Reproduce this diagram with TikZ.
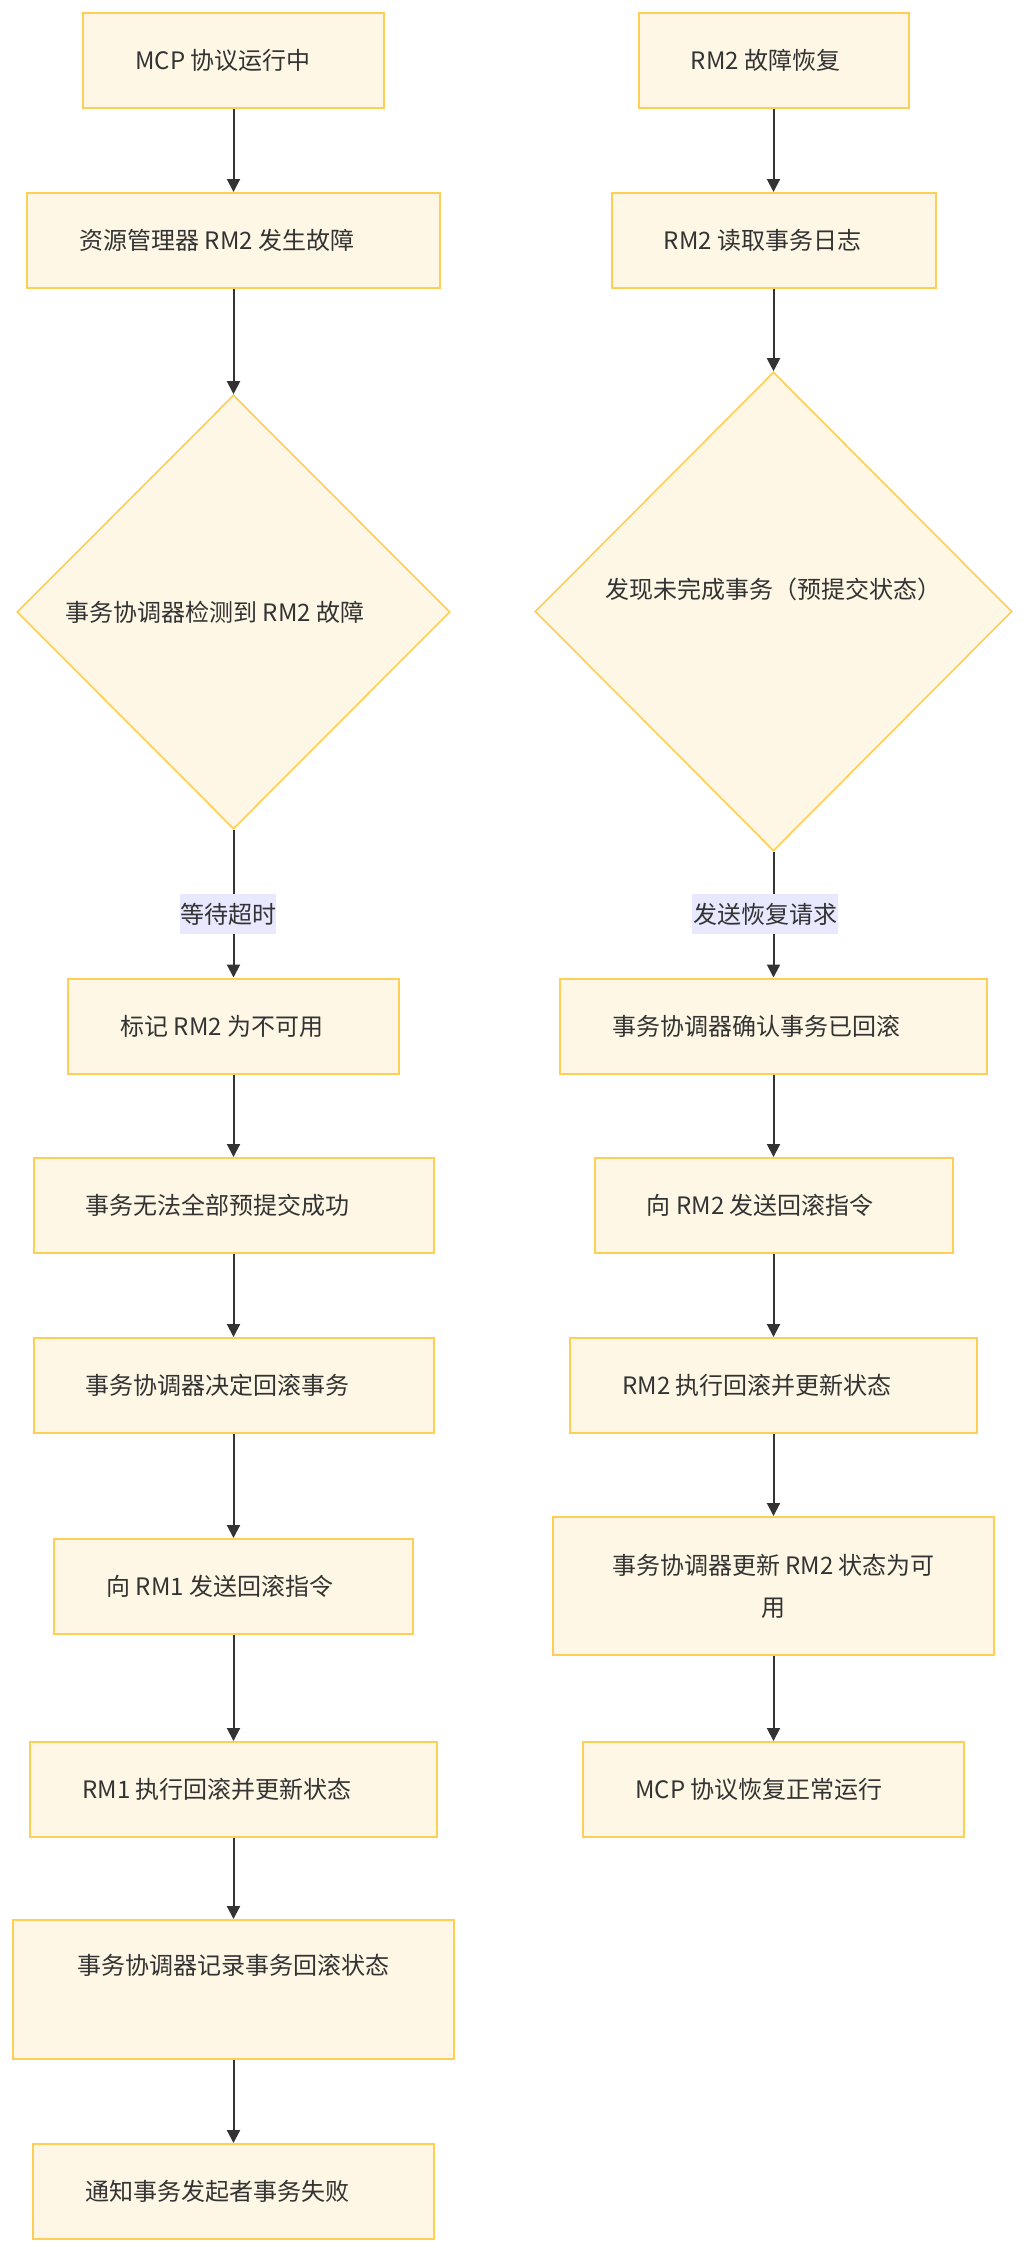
\documentclass[tikz,border=0pt]{standalone}
\usepackage{fontspec}
\usetikzlibrary{shapes.geometric,arrows.meta}
\newfontfamily\cjk{Noto Sans CJK SC}
\definecolor{boxfill}{RGB}{255,247,229}
\definecolor{boxline}{RGB}{255,206,84}
\definecolor{edgecol}{RGB}{51,51,51}
\definecolor{txtcol}{RGB}{51,51,51}
\definecolor{lblfill}{RGB}{232,232,255}
\tikzset{
  box/.style={draw=boxline, fill=boxfill, line width=1pt, rectangle, inner sep=0pt, minimum height=47.5pt},
  dia/.style={draw=boxline, fill=boxfill, line width=0.8pt, diamond, aspect=1, inner sep=0pt},
  txt/.style={font=\cjk\fontsize{12}{14}\selectfont, text=txtcol, inner sep=0pt},
  elbl/.style={font=\cjk\fontsize{12}{14}\selectfont, text=txtcol, fill=lblfill, inner sep=0pt, minimum height=20pt},
  arr/.style={draw=edgecol, line width=1pt, -{Triangle[length=6.5pt,width=6.5pt]}}
}
\begin{document}
\begin{tikzpicture}[x=0.5pt,y=-0.5pt]
\useasboundingbox (0,0) rectangle (1026,2254);
\fill[white] (0,0) rectangle (1026,2254);
% left column
\node[box, minimum width=150.5pt] (L1) at (233.5,60.5) {};
\node[box, minimum width=206.5pt] (L2) at (233.5,240.5) {};
\node[dia, minimum width=216.5pt, minimum height=217pt] (D1) at (233.5,612) {};
\node[box, minimum width=165.5pt] (L4) at (233.5,1026) {};
\node[box, minimum width=200pt] (L5) at (233.5,1205.5) {};
\node[box, minimum width=200pt] (L6) at (233.5,1385.5) {};
\node[box, minimum width=179.5pt] (L7) at (233.5,1586.5) {};
\node[box, minimum width=203.5pt] (L8) at (233.5,1789.5) {};
\node[box, minimum width=220.5pt, minimum height=69.5pt] (L9) at (233.5,1989.5) {};
\node[box, minimum width=200.5pt] (L10) at (233.5,2191.5) {};
% right column
\node[box, minimum width=135pt] (R1) at (773.5,60.5) {};
\node[box, minimum width=162pt] (R2) at (773.5,240.5) {};
\node[dia, minimum width=238.5pt, minimum height=239.5pt] (D2) at (773.5,611.5) {};
\node[box, minimum width=213.5pt] (R4) at (773.5,1026) {};
\node[box, minimum width=179pt] (R5) at (773.5,1205.5) {};
\node[box, minimum width=203.5pt] (R6) at (773.5,1385.5) {};
\node[box, minimum width=220.5pt, minimum height=69pt] (R7) at (773.5,1586) {};
\node[box, minimum width=190.5pt] (R8) at (773.5,1789.5) {};
% texts left
\node[txt, anchor=west] (L1t) at ([xshift=26.5pt]L1.west) {MCP 协议运行中};
\node[txt, anchor=west] (L2t) at ([xshift=26.5pt]L2.west) {资源管理器 RM2 发生故障};
\node[txt, anchor=west] (D1t) at ([xshift=24.5pt]D1.west) {事务协调器检测到 RM2 故障};
\node[txt, anchor=west] (L4t) at ([xshift=26.5pt]L4.west) {标记 RM2 为不可用};
\node[txt, anchor=west] (L5t) at ([xshift=26.5pt]L5.west) {事务无法全部预提交成功};
\node[txt, anchor=west] (L6t) at ([xshift=26.5pt]L6.west) {事务协调器决定回滚事务};
\node[txt, anchor=west] (L7t) at ([xshift=26.5pt]L7.west) {向 RM1 发送回滚指令};
\node[txt, anchor=west] (L8t) at ([xshift=26.5pt]L8.west) {RM1 执行回滚并更新状态};
\node[txt] (L9t) at ([yshift=-23pt]L9.north) {事务协调器记录事务回滚状态};
\node[txt, anchor=west] (L10t) at ([xshift=26.5pt]L10.west) {通知事务发起者事务失败};
% texts right
\node[txt, anchor=west] (R1t) at ([xshift=26.5pt]R1.west) {RM2 故障恢复};
\node[txt, anchor=west] (R2t) at ([xshift=26.5pt]R2.west) {RM2 读取事务日志};
\node[txt, anchor=west] (D2t) at ([xshift=35.5pt,yshift=11pt]D2.west) {发现未完成事务（预提交状态）};
\node[txt, anchor=west] (R4t) at ([xshift=26.5pt]R4.west) {事务协调器确认事务已回滚};
\node[txt, anchor=west] (R5t) at ([xshift=26.5pt]R5.west) {向 RM2 发送回滚指令};
\node[txt, anchor=west] (R6t) at ([xshift=26.5pt]R6.west) {RM2 执行回滚并更新状态};
\node[txt, align=center, font=\cjk\fontsize{12}{21}\selectfont] (R7t) at (R7.center) {事务协调器更新 RM2 状态为可\\用};
\node[txt, anchor=west] (R8t) at ([xshift=26.5pt]R8.west) {MCP 协议恢复正常运行};
% connectors left
\draw[arr] (L1.south) -- (L2.north);
\draw[arr] (L2.south) -- (D1.north);
\draw[arr] (D1.south) -- (L4.north);
\draw[arr] (L4.south) -- (L5.north);
\draw[arr] (L5.south) -- (L6.north);
\draw[arr] (L6.south) -- (L7.north);
\draw[arr] (L7.south) -- (L8.north);
\draw[arr] (L8.south) -- (L9.north);
\draw[arr] (L9.south) -- (L10.north);
% connectors right
\draw[arr] (R1.south) -- (R2.north);
\draw[arr] (R2.south) -- (D2.north);
\draw[arr] (D2.south) -- (R4.north);
\draw[arr] (R4.south) -- (R5.north);
\draw[arr] (R5.south) -- (R6.north);
\draw[arr] (R6.south) -- (R7.north);
\draw[arr] (R7.south) -- (R8.north);
% edge labels
\node[elbl, minimum width=48pt] (E1) at (228,914) {等待超时};
\node[elbl, minimum width=73pt] (E2) at (765,914) {发送恢复请求};
\end{tikzpicture}
\end{document}
